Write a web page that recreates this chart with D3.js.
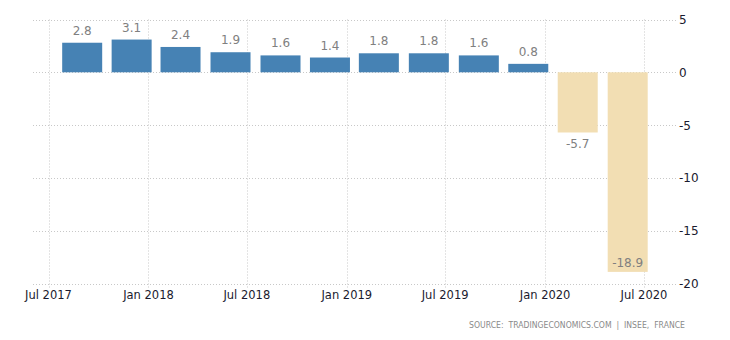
<!DOCTYPE html>
<html><head><meta charset="utf-8">
<script src="https://cdn.jsdelivr.net/npm/d3@7"></script>
<style>body{margin:0;background:#fff}svg{display:block}</style>
</head><body>
<svg id="c" width="730" height="340"></svg>
<script>
const dates = ["2017-09-01","2017-12-01","2018-03-01","2018-06-01","2018-09-01","2018-12-01","2019-03-01","2019-06-01","2019-09-01","2019-12-01","2020-03-01","2020-06-01"];
const values = [2.8,3.1,2.4,1.9,1.6,1.4,1.8,1.8,1.6,0.8,-5.7,-18.9];
const xTicks = ["2017-07-01","2018-01-01","2018-07-01","2019-01-01","2019-07-01","2020-01-01","2020-07-01"];
const yTicks = [5,0,-5,-10,-15,-20];
const source = "SOURCE:  TRADINGECONOMICS.COM  |  INSEE,  FRANCE";

const parse = d3.utcParse("%Y-%m-%d");
const svg = d3.select("#c");
const font = "'DejaVu Sans', sans-serif";
const left = 33, right = 677;
const x = d3.scaleUtc().domain([parse("2017-07-01"), parse("2020-07-01")]).range([48.5, 644]);
const y = d3.scaleLinear().domain([5,-20]).range([19.5,283.5]);
const barW = 40;

const g = svg.append("g");
// horizontal gridlines
g.selectAll("line.h").data(yTicks).join("line")
  .attr("x1", left).attr("x2", right)
  .attr("y1", d => Math.round(y(d))+0.5).attr("y2", d => Math.round(y(d))+0.5)
  .attr("stroke", "#c8c8c8").attr("stroke-dasharray", "1,2");
// vertical gridlines
g.selectAll("line.v").data(xTicks).join("line")
  .attr("x1", d => Math.round(x(parse(d)))+0.5).attr("x2", d => Math.round(x(parse(d)))+0.5)
  .attr("y1", y(5)).attr("y2", y(-20)+4)
  .attr("stroke", "#c8c8c8").attr("stroke-dasharray", "1,2");

// bars
g.selectAll("rect").data(values).join("rect")
  .attr("x", (d,i) => x(parse(dates[i])) - barW/2)
  .attr("width", barW)
  .attr("y", d => y(Math.max(0,d)))
  .attr("height", d => Math.abs(y(d) - y(0)))
  .attr("fill", d => d >= 0 ? "#4682b4" : "#f2deb3");

// value labels
g.selectAll("text.v").data(values).join("text")
  .attr("x", (d,i) => x(parse(dates[i])))
  .attr("y", d => d >= 0 ? y(d) - 8 : (y(d) > y(-17) ? y(d) - 5 : y(d) + 16))
  .attr("text-anchor", "middle")
  .attr("font-family", font).attr("font-size", 12)
  .attr("fill", "#808080")
  .text(d => d.toFixed(1));

// x labels
const fmt = d3.utcFormat("%b %Y");
g.selectAll("text.x").data(xTicks).join("text")
  .attr("x", d => x(parse(d)))
  .attr("y", 299)
  .attr("text-anchor", "middle")
  .attr("font-family", font).attr("font-size", 11.5)
  .attr("fill", "#1a1a2e")
  .text(d => fmt(parse(d)));

// y labels
g.selectAll("text.y").data(yTicks).join("text")
  .attr("x", 679)
  .attr("y", d => y(d) + 4.5)
  .attr("font-family", font).attr("font-size", 12)
  .attr("fill", "#1a1a2e")
  .text(d => d);

svg.append("text").attr("x", 469).attr("y", 328)
  .attr("font-family", font).attr("font-size", 8)
  .attr("fill", "#8a8a8a")
  .attr("xml:space", "preserve")
  .attr("textLength", 216).attr("lengthAdjust", "spacingAndGlyphs")
  .text(source);
</script>
</body></html>
